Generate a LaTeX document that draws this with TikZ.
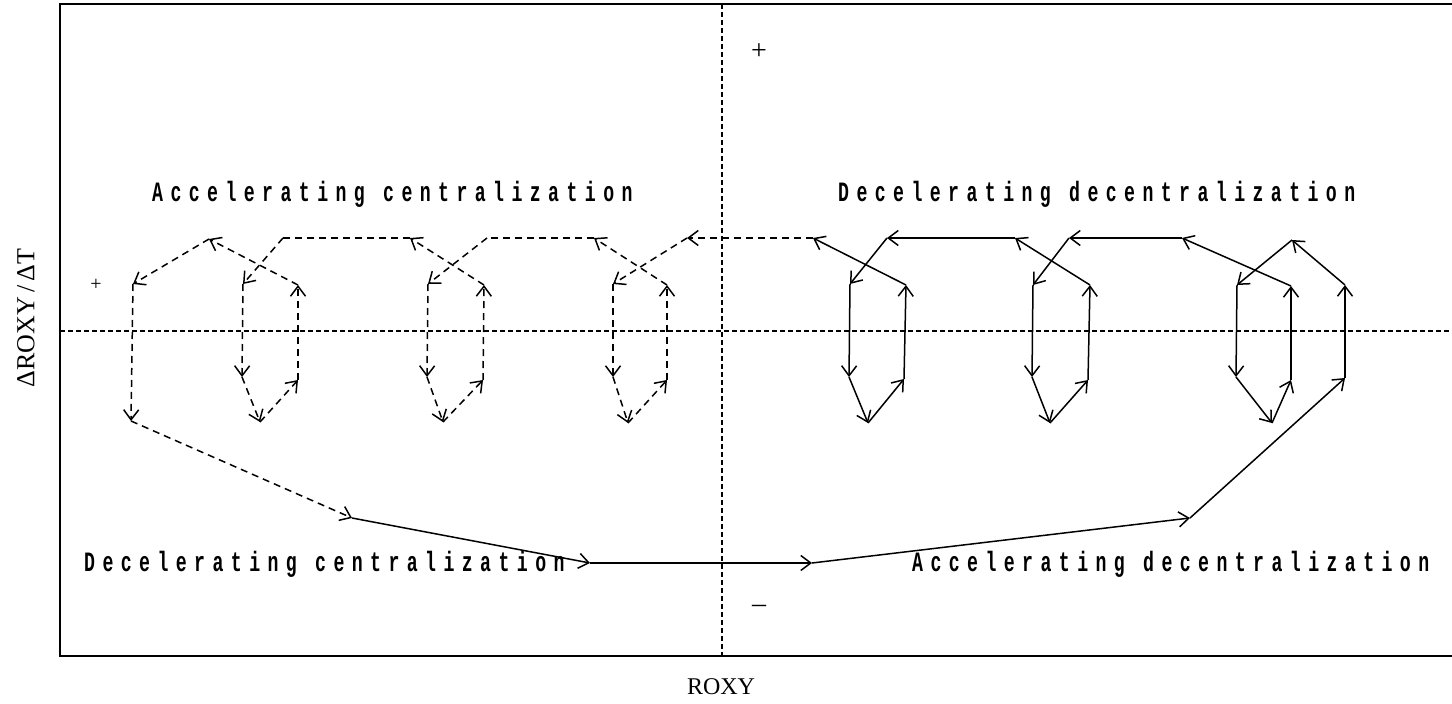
\documentclass[tikz,border=0pt]{standalone}
\usepackage{fontspec}
\usetikzlibrary{arrows.meta}
\newfontfamily\qfont{Liberation Mono}[FakeStretch=0.65,LetterSpace=26.5]
\newfontfamily\axfont{Liberation Serif}
\begin{document}
\begin{tikzpicture}[x=1pt,y=-1pt,
  frame/.style={line width=1.8pt},
  axisdot/.style={line width=1.2pt, dash pattern=on 4.5pt off 3.5pt},
  sol/.style={line width=1.5pt, -{Straight Barb[length=10pt,width=15pt,line width=1.5pt]}},
  das/.style={sol, dash pattern=on 7pt off 5pt},
  dasn/.style={line width=1.5pt, dash pattern=on 7pt off 5pt},
  qlab/.style={font=\qfont\bfseries\fontsize{28}{28}\selectfont, inner sep=0pt, anchor=base west},
  alab/.style={font=\axfont\fontsize{24}{24}\selectfont, inner sep=0pt},
  sign/.style={font=\axfont\fontsize{28}{28}\selectfont, inner sep=0pt}]
\useasboundingbox (0,0) rectangle (1452,704);
% frame and axes
\coordinate (tr) at (1452,4);
\coordinate (tl) at (60,4);
\coordinate (bl) at (60,656);
\coordinate (br) at (1452,656);
\draw[frame] (tr) -- (tl) -- (bl) -- (br);
\coordinate (vt) at (722,4);
\coordinate (vb) at (722,656);
\coordinate (hl) at (60,331);
\coordinate (hr) at (1452,331);
\draw[axisdot] (vt) -- (vb);
\draw[axisdot] (hl) -- (hr);
% labels
\node[alab] (xlab) at (721,687) {ROXY};
\node[alab, rotate=90, font=\axfont\fontsize{26}{26}\selectfont] (ylab) at (26,318) {ΔROXY\,/\,ΔT};
\node[sign] (p1) at (759,52) {+};
\node[sign, font=\axfont\fontsize{20}{20}\selectfont] (p2) at (96,285) {+};
\node[sign] (m1) at (759,609) {–};
\node[qlab] (q1) at (152,201) {Accelerating centralization};
\node[qlab] (q2) at (838,201) {Decelerating decentralization};
\node[qlab] (q3) at (84,571) {Decelerating centralization};
\node[qlab] (q4) at (912,571) {Accelerating decentralization};
% trajectory points
\coordinate (a1) at (1345,378);
\coordinate (a2) at (1345,285);
\coordinate (a3) at (1292,240);
\coordinate (a4) at (1237,285);
\coordinate (a5) at (1236,377);
\coordinate (a6) at (1272,423);
\coordinate (a7) at (1291,380);
\coordinate (a8) at (1291,286);
\coordinate (a9) at (1182,238);
\coordinate (a10) at (1069,238);
\coordinate (a11) at (1033,285);
\coordinate (a12) at (1032,377);
\coordinate (a13) at (1050,423);
\coordinate (a14) at (1088,380);
\coordinate (a15) at (1090,285);
\coordinate (a16) at (1015,238);
\coordinate (a17) at (887,238);
\coordinate (a18) at (850,284);
\coordinate (a19) at (849,377);
\coordinate (a20) at (868,423);
\coordinate (a21) at (904,379);
\coordinate (a22) at (906,285);
\coordinate (a23) at (813,238);
\coordinate (a24) at (687,238);
\coordinate (a25) at (613,284);
\coordinate (a26) at (613,377);
\coordinate (a27) at (628,423);
\coordinate (a28) at (667,380);
\coordinate (a29) at (667,285);
\coordinate (a30) at (594,238);
\coordinate (a31) at (487,238);
\coordinate (a32) at (428,284);
\coordinate (a33) at (427,377);
\coordinate (a34) at (443,422);
\coordinate (a35) at (483,380);
\coordinate (a36) at (484,285);
\coordinate (a37) at (410,238);
\coordinate (a38) at (283,238);
\coordinate (a39) at (243,284);
\coordinate (a40) at (242,377);
\coordinate (a41) at (260,422);
\coordinate (a42) at (298,380);
\coordinate (a43) at (298,285);
\coordinate (a44) at (209,239);
\coordinate (a45) at (133,284);
\coordinate (a46) at (131,421);
\coordinate (a47) at (352,518);
\coordinate (a48) at (590,563);
\coordinate (a49) at (812,563);
\coordinate (a50) at (1190,518);
% solid part (decentralization side)
\foreach \i/\j in {1/2,2/3,3/4,4/5,5/6,6/7,7/8,8/9,9/10,10/11,11/12,12/13,13/14,14/15,15/16,16/17,17/18,18/19,19/20,20/21,21/22,22/23,47/48,48/49,49/50,50/1}
  \draw[sol] (a\i) -- (a\j);
% dashed part (centralization side)
\foreach \i/\j in {23/24,24/25,25/26,26/27,27/28,28/29,29/30,31/32,32/33,33/34,34/35,35/36,36/37,38/39,39/40,40/41,41/42,42/43,43/44,44/45,45/46,46/47}
  \draw[das] (a\i) -- (a\j);
\foreach \i/\j in {30/31,37/38}
  \draw[dasn] (a\i) -- (a\j);
\end{tikzpicture}
\end{document}
